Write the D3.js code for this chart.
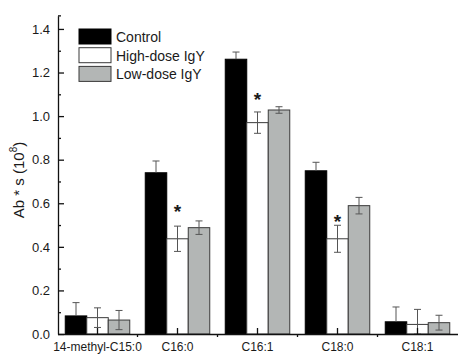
<!DOCTYPE html>
<html>
<head>
<meta charset="utf-8">
<script src="https://cdn.jsdelivr.net/npm/d3@7"></script>
<style>
  body { margin: 0; background: #fff; }
  text { font-family: "Liberation Sans", Arial, sans-serif; fill: #1a1a1a; }
</style>
</head>
<body>
<div id="chart"></div>
<script>
// data
const categories = ["14-methyl-C15:0", "C16:0", "C16:1", "C18:0", "C18:1"];
const seriesNames = ["Control", "High-dose IgY", "Low-dose IgY"];
const control = [0.083, 0.740, 1.261, 0.749, 0.056];
const controlErr = [0.061, 0.054, 0.033, 0.039, 0.068];
const highDose = [0.075, 0.437, 0.970, 0.437, 0.044];
const highDoseErr = [0.045, 0.058, 0.049, 0.062, 0.069];
const lowDose = [0.064, 0.488, 1.028, 0.589, 0.052];
const lowDoseErr = [0.044, 0.031, 0.015, 0.038, 0.034];
const starLevels = [null, 0.574, 1.089, 0.528, null];   // "*" on high-dose bars
const yMajorTicks = [0, 0.2, 0.4, 0.6, 0.8, 1.0, 1.2, 1.4];
const yMinorTicks = [0.1, 0.3, 0.5, 0.7, 0.9, 1.1, 1.3];

const svgWidth = 458, svgHeight = 363;
const fills = ["#000000", "#ffffff", "#b3b6b5"];
const strokes = ["#000000", "#3a3a3a", "#3a3a3a"];

const svg = d3.select("#chart").append("svg")
    .attr("width", svgWidth)
    .attr("height", svgHeight);

// scales
const y = d3.scaleLinear().domain([0, 1.46]).range([334, 334 - 1.46 * 217.9]);
const x = d3.scaleBand().domain(categories).range([57.5, 457.5]);
const xs = d3.scaleBand().domain(seriesNames).range([7.75, 7.75 + 64.5]);

const rows = categories.map((c, i) => ({
    cat: c,
    vals: [
        { s: 0, v: control[i], e: controlErr[i] },
        { s: 1, v: highDose[i], e: highDoseErr[i] },
        { s: 2, v: lowDose[i], e: lowDoseErr[i] }
    ],
    star: starLevels[i]
}));

// bars
const groups = svg.append("g").selectAll("g")
    .data(rows)
    .join("g")
    .attr("transform", d => `translate(${x(d.cat)},0)`);

groups.selectAll("rect")
    .data(d => d.vals)
    .join("rect")
    .attr("x", d => xs(seriesNames[d.s]))
    .attr("width", xs.bandwidth())
    .attr("y", d => y(d.v))
    .attr("height", d => y(0) - y(d.v))
    .attr("fill", d => fills[d.s])
    .attr("stroke", d => strokes[d.s])
    .attr("stroke-width", 1);

// error bars
const err = groups.selectAll("g.err")
    .data(d => d.vals)
    .join("g")
    .attr("class", "err")
    .attr("stroke", "#555")
    .attr("stroke-width", 1);

err.append("line")
    .attr("x1", d => xs(seriesNames[d.s]) + xs.bandwidth() / 2)
    .attr("x2", d => xs(seriesNames[d.s]) + xs.bandwidth() / 2)
    .attr("y1", d => y(d.v + d.e))
    .attr("y2", d => d.s === 0 ? y(d.v) : y(Math.max(0, d.v - d.e)));

err.append("line")
    .attr("x1", d => xs(seriesNames[d.s]) + xs.bandwidth() / 2 - 3.5)
    .attr("x2", d => xs(seriesNames[d.s]) + xs.bandwidth() / 2 + 3.5)
    .attr("y1", d => y(d.v + d.e))
    .attr("y2", d => y(d.v + d.e));

err.filter(d => d.s !== 0).append("line")
    .attr("x1", d => xs(seriesNames[d.s]) + xs.bandwidth() / 2 - 3.5)
    .attr("x2", d => xs(seriesNames[d.s]) + xs.bandwidth() / 2 + 3.5)
    .attr("y1", d => y(Math.max(0, d.v - d.e)))
    .attr("y2", d => y(Math.max(0, d.v - d.e)));

// significance stars
groups.filter(d => d.star !== null)
    .append("text")
    .attr("x", xs(seriesNames[1]) + xs.bandwidth() / 2)
    .attr("y", d => y(d.star) + 9.5)
    .attr("text-anchor", "middle")
    .attr("font-size", 19)
    .attr("font-weight", "bold")
    .text("*");

// y axis
const yAxis = d3.axisLeft(y)
    .tickValues(yMajorTicks)
    .tickFormat(d3.format(".1f"))
    .tickSizeInner(-6)
    .tickSizeOuter(0)
    .tickPadding(8);

const yAxisG = svg.append("g")
    .attr("transform", "translate(58,0)")
    .call(yAxis);
yAxisG.selectAll("text").attr("font-size", 13).attr("font-family", null).attr("fill", "#1a1a1a");
yAxisG.selectAll("line, path").attr("stroke", "#111").attr("stroke-width", 1.3);

const yMinor = svg.append("g")
    .attr("transform", "translate(58,0)")
    .call(d3.axisLeft(y).tickValues(yMinorTicks).tickSizeInner(-3).tickSizeOuter(0).tickFormat(""));
yMinor.select(".domain").remove();
yMinor.selectAll("line").attr("stroke", "#111").attr("stroke-width", 1.3);

// cap at top of y axis
svg.append("line")
    .attr("x1", 58).attr("x2", 61)
    .attr("y1", y(1.46)).attr("y2", y(1.46))
    .attr("stroke", "#111").attr("stroke-width", 1.3);

// x axis
const xAxis = d3.axisBottom(x)
    .tickSizeInner(-6)
    .tickSizeOuter(0)
    .tickPadding(8.5);

const xAxisG = svg.append("g")
    .attr("transform", `translate(0,${y(0)})`)
    .call(xAxis);
xAxisG.selectAll("text").attr("font-size", 12).attr("font-family", null).attr("fill", "#1a1a1a");
xAxisG.selectAll("line, path").attr("stroke", "#111").attr("stroke-width", 1.3);

// minor ticks between groups, pointing down
xAxisG.selectAll("line.minor")
    .data(categories.slice(1))
    .join("line")
    .attr("class", "minor")
    .attr("x1", d => x(d)).attr("x2", d => x(d))
    .attr("y1", 0).attr("y2", 3)
    .attr("stroke", "#111").attr("stroke-width", 1.3);

// y axis title
const yTitle = svg.append("text")
    .attr("transform", "translate(24,180) rotate(-90)")
    .attr("text-anchor", "middle")
    .attr("font-size", 15);
yTitle.append("tspan").text("Ab * s (10");
yTitle.append("tspan").attr("font-size", 10).attr("dy", -7).text("8");
yTitle.append("tspan").attr("dy", 7).text(")");

// legend
const legend = svg.append("g").attr("transform", "translate(79,29)");
const legendItems = legend.selectAll("g")
    .data(seriesNames)
    .join("g")
    .attr("transform", (d, i) => `translate(0,${i * 18.7})`);

legendItems.append("rect")
    .attr("width", 32)
    .attr("height", 15)
    .attr("fill", (d, i) => fills[i])
    .attr("stroke", (d, i) => strokes[i])
    .attr("stroke-width", 1);

legendItems.append("text")
    .attr("x", 37)
    .attr("y", 13)
    .attr("font-size", 14)
    .text(d => d);
</script>
</body>
</html>
